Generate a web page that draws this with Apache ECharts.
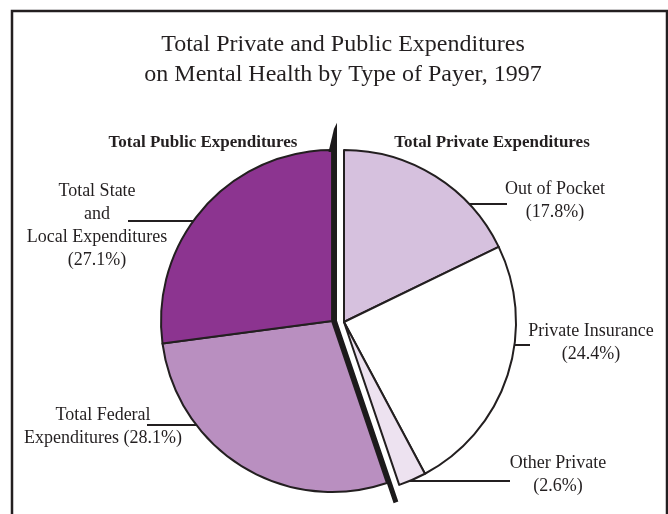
<!DOCTYPE html>
<html>
<head>
<meta charset="utf-8">
<script src="https://cdn.jsdelivr.net/npm/echarts@6/dist/echarts.min.js"></script>
<style>
  html, body { margin: 0; padding: 0; background: #fff; }
  #chart { width: 668px; height: 514px; }
</style>
</head>
<body>
<div id="chart"></div>
<script>
// Payer categories, clockwise from 12 o'clock
const categories = ['Out of Pocket', 'Private Insurance', 'Other Private', 'Total Federal Expenditures', 'Total State and Local Expenditures'];
// Share of total mental health spending, percent
const shares = [17.8, 24.4, 2.6, 28.1, 27.1];
// Which side of the split pie each payer belongs to
const payerGroup = ['private', 'private', 'private', 'public', 'public'];
// Label wording, one entry per text line; the share is appended below or inline
const labelParts = [['Out of Pocket'], ['Private Insurance'], ['Other Private'], ['Total Federal', 'Expenditures'], ['Total State', 'and', 'Local Expenditures']];
const shareInline = [false, false, false, true, false];
const groupTitles = ['Total Public Expenditures', 'Total Private Expenditures'];

const INK = '#231f20';
const DIVIDER = '#1c1a1b';
const SERIF = '"Liberation Serif", "DejaVu Serif", serif';
const sliceColors = ['#d6c1de', '#ffffff', '#ede2f0', '#b98fc0', '#8c3490'];

// Pie geometry: the private half is pulled out to the right
const pub = { cx: 332, cy: 321, r: 171 };
const priv = { cx: 344, cy: 322, r: 172 };
const POLAR_SPAN = 1.25; // polar frame reaches a little past the pie rim

// Label block centres and the height of each horizontal leader line
const labelPlace = [
  { x: 555, y: 201, lineY: 204, lineEnd: 507 },
  { x: 591, y: 343, lineY: 345, lineEnd: 530 },
  { x: 558, y: 475, lineY: 481, lineEnd: 510 },
  { x: 103, y: 427, lineY: 425, lineEnd: 147 },
  { x: 97, y: 226, lineY: 221, lineEnd: 128 }
];

function labelText(i) {
  const lines = labelParts[i].slice();
  const pct = '(' + shares[i].toFixed(1) + '%)';
  if (shareInline[i]) lines[lines.length - 1] += ' ' + pct;
  else lines.push(pct);
  return lines.join('\n');
}

function buildData(group) {
  return categories.map((name, i) => {
    const mine = payerGroup[i] === group;
    return {
      name: name,
      value: shares[i],
      itemStyle: mine
        ? { color: sliceColors[i], borderColor: INK, borderWidth: 2 }
        : { color: 'rgba(0,0,0,0)', borderWidth: 0 },
      label: { show: mine },
      labelLine: { show: mine }
    };
  });
}

function makeLayout(geo, side) {
  return function (params) {
    const i = params.dataIndex;
    if (payerGroup[i] !== (side > 0 ? 'private' : 'public')) return {};
    const p = labelPlace[i];
    const dy = p.lineY - geo.cy;
    const edgeX = geo.cx + side * Math.sqrt(geo.r * geo.r - dy * dy);
    return {
      x: p.x,
      y: p.y,
      align: 'center',
      verticalAlign: 'middle',
      labelLinePoints: [[edgeX, p.lineY], [(edgeX + p.lineEnd) / 2, p.lineY], [p.lineEnd, p.lineY]]
    };
  };
}

const pieLabel = {
  show: true,
  position: 'outside',
  formatter: (p) => labelText(p.dataIndex),
  fontFamily: SERIF,
  fontSize: 18,
  lineHeight: 23,
  color: INK
};

// Cumulative share where the private wedge ends (clockwise from the top)
const privateTotal = shares.reduce((s, v, i) => s + (payerGroup[i] === 'private' ? v : 0), 0);

const frame = {
  type: 'rect', silent: true,
  shape: { x: 12, y: 11, width: 655, height: 530 },
  style: { fill: 'none', stroke: INK, lineWidth: 2.5 }
};

const chart = echarts.init(document.getElementById('chart'), null, { renderer: 'canvas' });
chart.setOption({
  backgroundColor: '#ffffff',
  animation: false,
  title: [
    {
      text: 'Total Private and Public Expenditures\non Mental Health by Type of Payer, 1997',
      left: 338, top: 25, textAlign: 'center',
      textStyle: { fontFamily: SERIF, fontSize: 24, fontWeight: 'normal', lineHeight: 30, color: INK }
    },
    {
      text: groupTitles[0], left: 198, top: 128, textAlign: 'center',
      textStyle: { fontFamily: SERIF, fontSize: 17, fontWeight: 'bold', lineHeight: 20, color: INK }
    },
    {
      text: groupTitles[1], left: 487, top: 128, textAlign: 'center',
      textStyle: { fontFamily: SERIF, fontSize: 17, fontWeight: 'bold', lineHeight: 20, color: INK }
    }
  ],
  // polar frame used for the heavy divider along the public wedge
  polar: { center: [pub.cx + 2.5, pub.cy], radius: pub.r * POLAR_SPAN },
  angleAxis: { type: 'value', min: 0, max: 100, startAngle: 90, clockwise: true, show: false },
  radiusAxis: { type: 'value', min: 0, max: POLAR_SPAN, show: false },
  graphic: [frame],
  series: [
    {
      type: 'pie', silent: true, startAngle: 90, clockwise: true,
      center: [pub.cx, pub.cy], radius: pub.r,
      avoidLabelOverlap: false,
      label: pieLabel,
      labelLine: { show: true, lineStyle: { color: INK, width: 2 } },
      labelLayout: makeLayout(pub, -1),
      data: buildData('public')
    },
    {
      type: 'pie', silent: true, startAngle: 90, clockwise: true,
      center: [priv.cx, priv.cy], radius: priv.r,
      avoidLabelOverlap: false,
      label: pieLabel,
      labelLine: { show: true, lineStyle: { color: INK, width: 2 } },
      labelLayout: makeLayout(priv, 1),
      data: buildData('private')
    },
    {
      // heavy divider: up the 12 o'clock edge, then out along the far edge of the private wedge
      type: 'line', coordinateSystem: 'polar', silent: true, clip: false,
      symbol: 'none',
      lineStyle: { color: DIVIDER, width: 5, join: 'miter' },
      data: [[1.0, 0], [0, 0], [1.12, privateTotal]],
      z: 5
    }
  ]
});

// Tapered tip of the divider above the rim, placed through the polar frame
const tipBase = chart.convertToPixel({ seriesIndex: 2 }, [1.0, 0]);
const tipTop = chart.convertToPixel({ seriesIndex: 2 }, [1.16, 0]);
chart.setOption({
  graphic: [
    frame,
    {
      type: 'polygon', silent: true, z: 10,
      shape: { points: [
        [tipBase[0] - 6, tipBase[1] + 2],
        [tipBase[0] + 2.5, tipBase[1] + 2],
        [tipTop[0] + 2.5, tipTop[1]],
        [tipTop[0] - 0.5, tipTop[1] + 6]
      ] },
      style: { fill: DIVIDER }
    }
  ]
});
</script>
</body>
</html>
